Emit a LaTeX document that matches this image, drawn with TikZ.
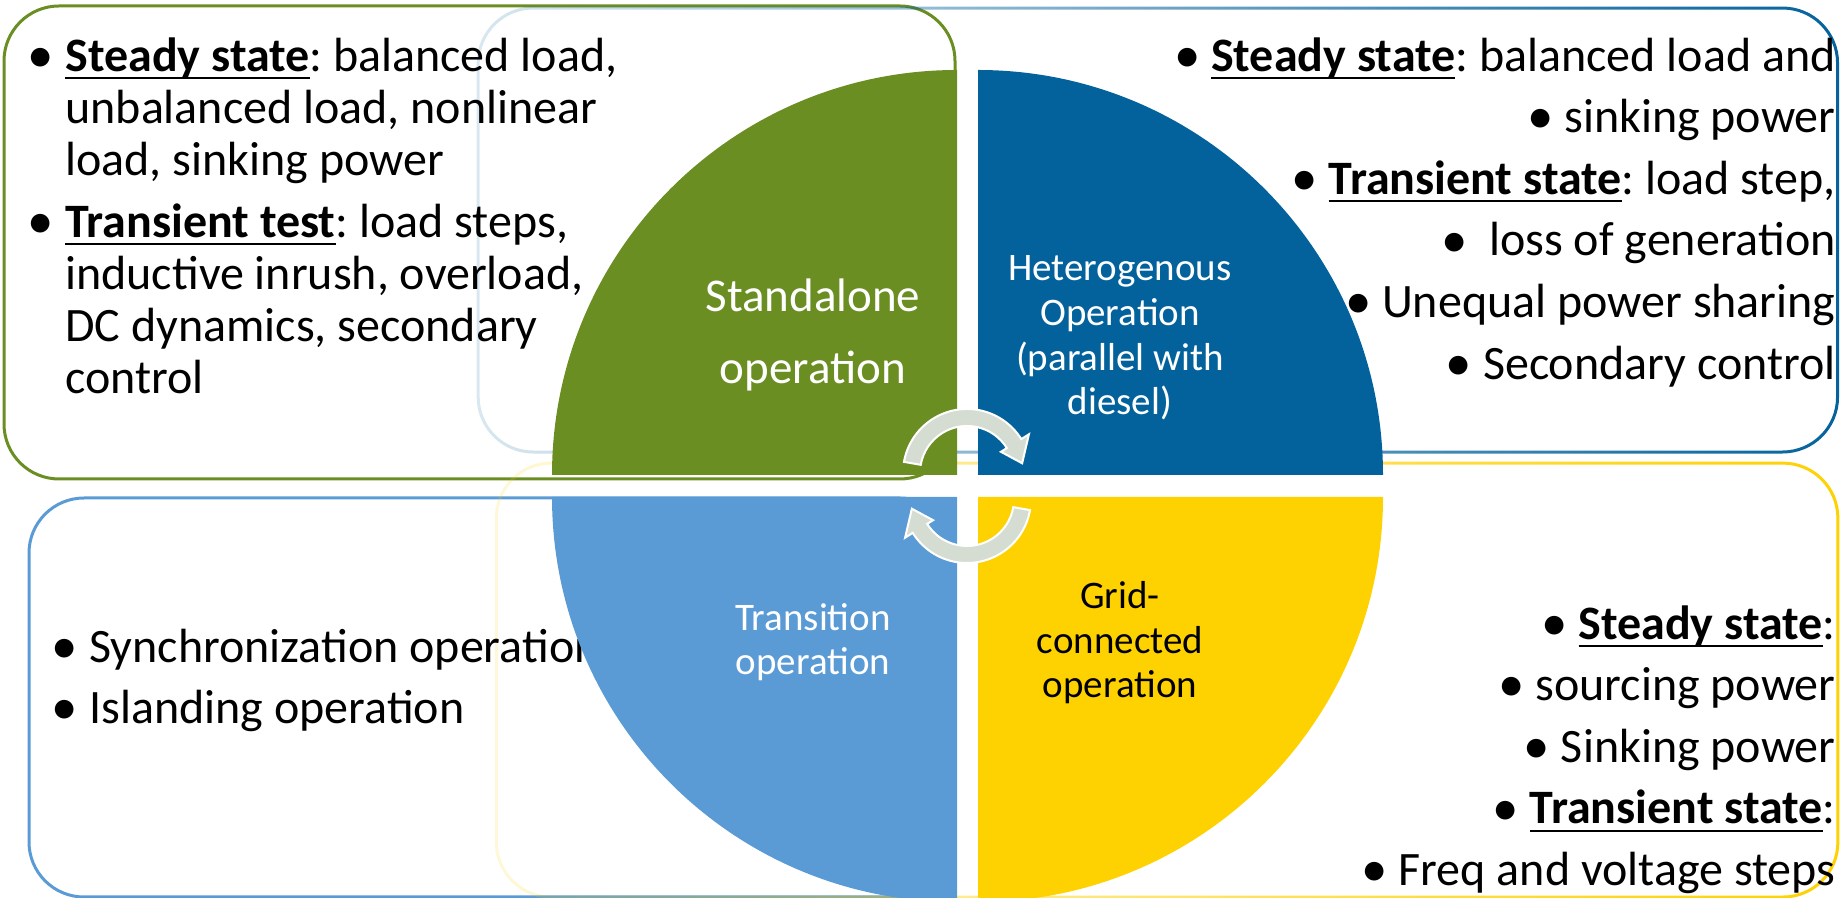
\documentclass[tikz,border=0pt]{standalone}
\usepackage{fontspec}
\setmainfont{Carlito}
\usepackage{tikz}
\usetikzlibrary{fadings}

\definecolor{opgreen}{HTML}{6B8E23}
\definecolor{opblue}{HTML}{03629C}
\definecolor{oplightblue}{HTML}{5B9BD5}
\definecolor{opyellow}{HTML}{FED100}
\definecolor{oparrow}{HTML}{D5DDD3}

% frames on the right fade out towards the left
\tikzfading[name=fade in east, left color=transparent!85, middle color=transparent!0, right color=transparent!0]

\frenchspacing
\newsavebox{\keybox}
\newcommand{\opbullet}{\raisebox{-0.6pt}{\scalebox{1.1}{\textbullet}}}
\newcommand{\itembul}{\makebox[14.5pt][l]{\hspace*{-4.5pt}\opbullet}}
\newcommand{\itemind}{\hspace*{14.5pt}}
% bold, underlined term
\newcommand{\keyterm}[1]{\sbox{\keybox}{\textbf{#1}}\rlap{\rule[-4pt]{\wd\keybox}{1.1pt}}\usebox{\keybox}}

\begin{document}
\begin{tikzpicture}[x=0.5pt,y=0.5pt,
                    box/.style={rounded corners=27.5pt,line width=1.5pt},
                    bodytext/.style={font=\fontsize{24}{26}\selectfont,inner sep=0pt,align=left},
                    quadlabel/.style={font=\fontsize{19.5}{22.3}\selectfont,inner sep=0pt,align=center,text=white},
                    cyclearrow/.style={fill=oparrow,draw=white,line width=1pt}]

  \useasboundingbox (0,0) rectangle (1842,898);

  % frames
  \draw[box,opgreen]                             (4,419)   rectangle (955,892);
  \draw[box,opblue,path fading=fade in east]     (479,446) rectangle (1840,890);
  \draw[box,oplightblue]                         (29,1)    rectangle (955,400);
  \draw[box,opyellow,path fading=fade in east]   (497,1)   rectangle (1840,435);

  % left lists sit behind the quadrants
  \node[bodytext,anchor=north west] (standtext) at (36,861) {%
    \itembul\keyterm{Steady state}: balanced load,\\
    \itemind unbalanced load, nonlinear\\
    \itemind load, sinking power\\[5pt]
    \itembul\keyterm{Transient test}: load steps,\\
    \itemind inductive inrush, overload,\\
    \itemind DC dynamics, secondary\\
    \itemind control};
  \node[bodytext,anchor=north west] (transtext) at (60,269) {%
    \itembul Synchronization operation\\[4.5pt]
    \itembul Islanding operation};

  % quadrants
  \fill[opgreen]     (957,423) -- (957,828)  arc[start angle=90,end angle=180,radius=405] -- cycle;
  \fill[opblue]      (978,423) -- (978,828)  arc[start angle=90,end angle=0,radius=405] -- cycle;
  \fill[oplightblue] (957,401) -- (552,401)  arc[start angle=180,end angle=270,radius=405] -- cycle;
  \fill[opyellow]    (978,401) -- (1383,401) arc[start angle=0,end angle=-90,radius=405] -- cycle;

  \node[quadlabel,font=\fontsize{23.5}{36}\selectfont] (stand) at (813,563) {Standalone\\operation};
  \node[quadlabel] (hetero) at (1120,560) {Heterogenous\\Operation\\(parallel with\\diesel)};
  \node[quadlabel] (trans)  at (813,256)  {Transition\\operation};
  \node[quadlabel,text=black] (grid) at (1120,255) {Grid-\\connected\\operation};

  % right lists
  \node[bodytext,align=right,anchor=north east] (heterotext) at (1836,861) {%
    \opbullet{} \keyterm{Steady state}: balanced load and\\[4.8pt]
    \opbullet{} sinking power\\[4.8pt]
    \opbullet{} \keyterm{Transient state}: load step,\\[4.8pt]
    \opbullet\ \ loss of generation\\[4.8pt]
    \opbullet{} Unequal power sharing\\[4.8pt]
    \opbullet{} Secondary control};
  \node[bodytext,align=right,anchor=north east] (gridtext) at (1836,293) {%
    \opbullet{} \keyterm{Steady state}:\\[4.8pt]
    \opbullet{} sourcing power\\[4.8pt]
    \opbullet{} Sinking power\\[4.8pt]
    \opbullet{} \keyterm{Transient state}:\\[4.8pt]
    \opbullet{} Freq and voltage steps};

  % cycle arrows in the middle
  \begin{scope}[shift={(967,425)}]
    \filldraw[cyclearrow] (170:64) arc[start angle=170,end angle=32,radius=64]
      -- (32:73) -- (10:56) -- (32:40) -- (32:47)
      arc[start angle=32,end angle=170,radius=47] -- cycle;
  \end{scope}
  \begin{scope}[shift={(967,399)}]
    \filldraw[cyclearrow] (-10:64) arc[start angle=-10,end angle=-148,radius=64]
      -- (-148:73) -- (-170:56) -- (-148:40) -- (-148:47)
      arc[start angle=-148,end angle=-10,radius=47] -- cycle;
  \end{scope}

\end{tikzpicture}
\end{document}
